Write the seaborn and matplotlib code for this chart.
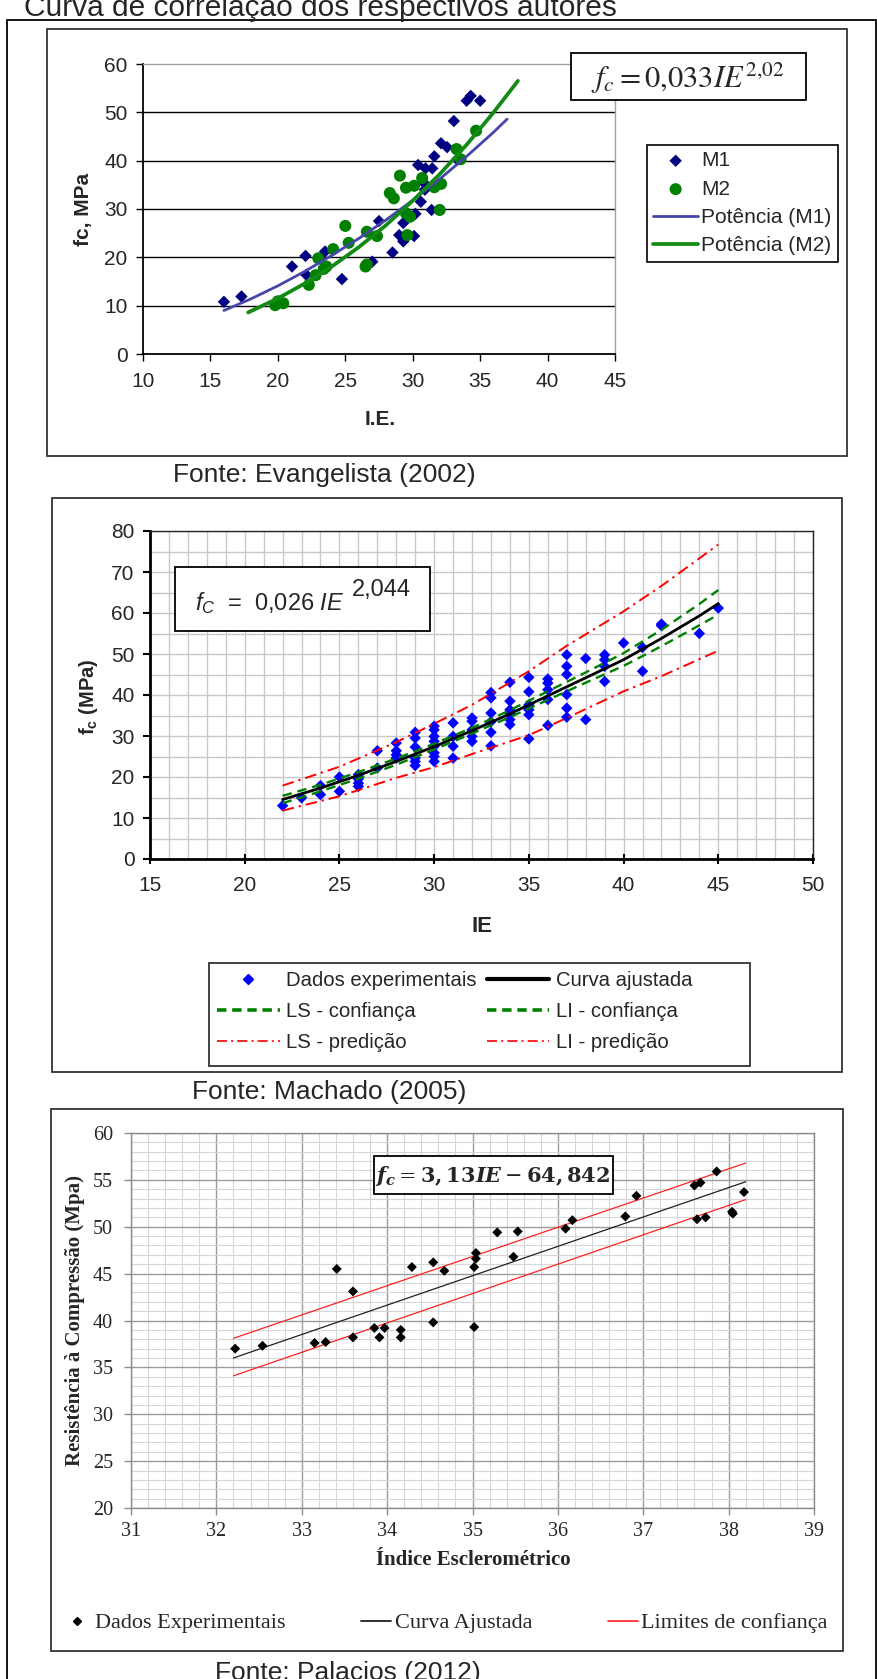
import matplotlib
matplotlib.use("Agg")
import matplotlib.pyplot as plt
from matplotlib.patches import Rectangle
from matplotlib.lines import Line2D
from matplotlib.ticker import MultipleLocator
import seaborn as sns

# ----------------------------------------
# Data - Evangelista (2002)
# ----------------------------------------
m1_ie = [16.0, 17.3, 21.05, 22.05, 22.1, 23.5, 24.75, 27.0, 27.5, 28.5, 29.0, 29.3,
         29.3, 30.1, 30.2, 30.6, 31.4, 30.4, 30.95, 31.45, 31.6, 32.1, 32.55, 33.05,
         34.0, 34.3, 35.0, 33.3, 30.8, 30.9]
m1_fc = [10.8, 11.9, 18.1, 20.3, 16.4, 21.2, 15.5, 19.1, 27.5, 21.0, 24.6, 23.3,
         27.1, 24.4, 29.0, 31.5, 29.8, 39.1, 38.4, 38.4, 40.9, 43.6, 42.8, 48.2,
         52.4, 53.4, 52.4, 40.2, 35.5, 34.0]
m2_ie = [19.8, 20.0, 20.4, 22.3, 22.8, 23.0, 23.6, 24.1, 25.0, 25.25, 26.5, 26.6,
         27.35, 28.3, 28.6, 29.05, 29.5, 30.1, 30.7, 29.5, 29.8, 29.6, 31.6, 32.1,
         32.0, 33.25, 33.55, 34.7, 26.6, 23.4]
m2_fc = [10.1, 10.9, 10.5, 14.3, 16.3, 19.8, 18.1, 21.7, 26.5, 23.0, 18.1, 25.3,
         24.4, 33.3, 32.2, 36.9, 34.4, 34.8, 36.4, 29.1, 28.4, 24.6, 34.5, 35.2,
         29.8, 42.4, 40.3, 46.2, 18.5, 17.6]
pot_m1_ie = [16, 18, 20, 22, 24, 26, 28, 30, 32, 34, 36, 37]
pot_m1_fc = [9.0, 11.4, 14.1, 17.1, 20.4, 23.9, 27.7, 31.8, 36.2, 40.9, 45.9, 48.6]
pot_m2_ie = [17.8, 20, 22, 24, 26, 28, 30, 32, 34, 36, 37.8]
pot_m2_fc = [8.6, 11.5, 14.6, 18.1, 22.1, 26.6, 31.7, 37.2, 43.3, 50.0, 56.5]
ev_xticks = [10, 15, 20, 25, 30, 35, 40, 45]
ev_yticks = [0, 10, 20, 30, 40, 50, 60]

# ----------------------------------------
# Data - Machado (2005)
# ----------------------------------------
mach_ie = [22, 23, 24, 24, 25, 25, 26, 26, 26, 26, 27, 27,
           28, 28, 28, 28, 29, 29, 29, 29, 29, 29,
           30, 30, 30, 30, 30, 30, 30, 30, 31, 31, 31, 31,
           32, 32, 32, 32, 32, 33, 33, 33, 33, 33, 33,
           34, 34, 34, 34, 34, 34, 35, 35, 35, 35, 35, 35,
           36, 36, 36, 36, 36, 37, 37, 37, 37, 37, 37,
           38, 38, 39, 39, 39, 39, 40, 41, 41, 42, 42, 44, 45]
mach_fc = [13.0, 14.9, 17.9, 15.7, 20.0, 16.5, 20.6, 19.5, 18.5, 17.7, 26.4, 22.2,
           28.3, 26.4, 25.4, 24.6, 30.9, 29.5, 27.3, 24.6, 22.8, 23.8,
           32.4, 31.5, 29.9, 28.7, 27.5, 25.9, 25.0, 23.8, 33.2, 29.9, 27.5, 24.6,
           34.4, 33.6, 31.5, 29.9, 28.7, 40.6, 39.3, 35.6, 33.5, 30.9, 27.6,
           43.1, 38.5, 36.4, 35.5, 34.0, 32.8, 44.3, 40.8, 37.6, 36.4, 35.2, 29.3,
           43.9, 42.9, 41.3, 38.9, 32.6, 49.8, 47.0, 45.0, 40.1, 36.8, 34.6,
           48.9, 34.0, 49.8, 48.6, 47.0, 43.3, 52.7, 51.6, 45.8, 57.3, 56.9, 55.0, 61.2]
fit_ie = [22, 24, 26, 28, 30, 32, 34, 36, 38, 40, 42, 44, 45]
fit_fc = [14.5, 17.3, 20.4, 23.8, 27.4, 31.3, 35.4, 39.8, 44.2, 48.6, 53.8, 59.3, 62.3]
conf_ls = [15.4, 18.1, 21.2, 24.5, 28.1, 32.0, 36.3, 40.9, 45.5, 50.2, 55.9, 62.2, 65.6]
conf_li = [13.6, 16.5, 19.6, 23.0, 26.7, 30.6, 34.6, 38.8, 43.0, 47.1, 51.9, 57.0, 59.6]
pred_ie = [22, 25, 28, 30, 32, 35, 37, 40, 42, 45]
pred_ls = [17.9, 22.5, 28.5, 33.0, 37.6, 45.8, 52.0, 60.4, 66.6, 76.7]
pred_li = [11.8, 15.3, 19.8, 22.4, 25.6, 30.2, 34.4, 40.9, 44.6, 50.8]
mach_xticks = [15, 20, 25, 30, 35, 40, 45, 50]
mach_yticks = [0, 10, 20, 30, 40, 50, 60, 70, 80]

# ----------------------------------------
# Data - Palacios (2012)
# ----------------------------------------
pal_ie = [32.22, 32.54, 33.15, 33.28, 33.41, 33.6, 33.6, 33.85, 33.91, 33.97,
          34.16, 34.16, 34.29, 34.54, 34.54, 34.67, 35.02, 35.04, 35.04, 35.02,
          35.29, 35.53, 35.48, 36.09, 36.17, 36.79, 36.92, 37.6, 37.67, 37.86,
          37.63, 37.73, 38.04, 38.05, 38.18]
pal_fc = [37.0, 37.3, 37.6, 37.7, 45.5, 43.1, 38.2, 39.2, 38.2, 39.2,
          39.0, 38.2, 45.7, 46.2, 39.8, 45.3, 45.7, 47.2, 46.6, 39.3,
          49.4, 49.5, 46.8, 49.8, 50.7, 51.1, 53.3, 54.4, 54.7, 55.9,
          50.8, 51.0, 51.6, 51.4, 53.7]
pal_line_ie = [32.2, 38.2]
pal_fit = [36.0, 54.8]
pal_sup = [38.1, 56.8]
pal_inf = [34.1, 52.9]
pal_xticks = [31, 32, 33, 34, 35, 36, 37, 38, 39]
pal_yticks = [20, 25, 30, 35, 40, 45, 50, 55, 60]

# ----------------------------------------
# Figure setup
# ----------------------------------------
W, H = 877, 1679

def fx(x):
    return x / W

def fy(y):
    return 1 - y / H

def box(l, t, r, b):
    return [l / W, 1 - b / H, (r - l) / W, (b - t) / H]

def frame(l, t, r, b, lw=1.3, color="#333333", fill="none", z=1):
    fig.add_artist(Rectangle((l / W, 1 - b / H), (r - l) / W, (b - t) / H,
                             transform=fig.transFigure, facecolor=fill,
                             edgecolor=color, lw=lw, zorder=z))

sns.set_style("ticks")
plt.rcParams["font.family"] = ["Liberation Sans", "DejaVu Sans"]
plt.rcParams["mathtext.fontset"] = "custom"
plt.rcParams["mathtext.rm"] = "Liberation Sans"
plt.rcParams["mathtext.it"] = "Liberation Sans:italic"
plt.rcParams["mathtext.bf"] = "Liberation Sans:bold"

fig = plt.figure(figsize=(W / 100, H / 100), dpi=100)

SANS = "Liberation Sans"
SERIF = "Liberation Serif"

# ----------------------------------------
# 1. Evangelista (2002)
# ----------------------------------------
ax1 = fig.add_axes(box(143, 64, 615, 354))
ax1.set_axisbelow(True)
sns.scatterplot(x=m1_ie, y=m1_fc, marker="D", s=40, color="#000080",
                edgecolor="none", label="M1", ax=ax1, zorder=3)
sns.scatterplot(x=m2_ie, y=m2_fc, marker="o", s=75, color="#008000",
                edgecolor="none", label="M2", ax=ax1, zorder=3)
sns.lineplot(x=pot_m1_ie, y=pot_m1_fc, color="#4646aa", linewidth=2.0,
             estimator=None, sort=False, label="Potência (M1)", ax=ax1, zorder=4)
sns.lineplot(x=pot_m2_ie, y=pot_m2_fc, color="#138a13", linewidth=2.7,
             estimator=None, sort=False, label="Potência (M2)", ax=ax1, zorder=4)
ax1.set_xlim(10, 45)
ax1.set_ylim(0, 60)
ax1.set_xticks(ev_xticks)
ax1.set_xticklabels([str(v) for v in ev_xticks], fontsize=15, family=SANS)
ax1.set_yticks(ev_yticks)
ax1.set_yticklabels([str(v) for v in ev_yticks], fontsize=15, family=SANS)
ax1.yaxis.grid(True, color="black", lw=1)
for gl, v in zip(ax1.get_ygridlines(), ev_yticks):
    if v in (0, 60):
        gl.set_visible(False)
for s in ["left", "bottom"]:
    ax1.spines[s].set_color("black")
    ax1.spines[s].set_linewidth(1.3)
for s in ["top", "right"]:
    ax1.spines[s].set_visible(True)
    ax1.spines[s].set_color("#a0a0a0")
    ax1.spines[s].set_linewidth(1)
ax1.tick_params(axis="both", direction="out", length=5, width=1, color="black")
ax1.tick_params(axis="x", pad=8)
ax1.tick_params(axis="y", pad=6)
ax1.set_xlabel("")
ax1.set_ylabel("")
h1, l1 = ax1.get_legend_handles_labels()
leg1 = ax1.legend(h1, l1, loc="upper left", bbox_to_anchor=(fx(647), fy(145)),
                  bbox_transform=fig.transFigure, fontsize=15, frameon=True,
                  fancybox=False, edgecolor="black", framealpha=1, borderpad=0.3,
                  labelspacing=0.45, handlelength=2.15, handletextpad=0.15,
                  borderaxespad=0)
leg1.get_frame().set_linewidth(1.2)

fig.text(fx(83), fy(209), "fc, MPa", rotation=90, ha="center", va="center",
         fontsize=15, fontweight="bold", family=SANS)
fig.text(fx(380), fy(420), "I.E.", ha="center", va="center",
         fontsize=15, fontweight="bold", family=SANS)
frame(571, 53, 806, 100, lw=1.3, color="black", fill="white", z=4)
fig.text(fx(688), fy(78), r"$f_c = 0{,}033IE^{2{,}02}$", math_fontfamily="stix",
         ha="center", va="center", fontsize=22, zorder=5)

# ----------------------------------------
# 2. Machado (2005)
# ----------------------------------------
ax2 = fig.add_axes(box(150, 531, 813, 859))
ax2.set_axisbelow(True)
sns.scatterplot(x=mach_ie, y=mach_fc, marker="D", s=34, color="#0000ff",
                edgecolor="none", ax=ax2, zorder=2)
sns.lineplot(x=pred_ie, y=pred_ls, color="#ff0000", linewidth=1.4,
             linestyle=(0, (6, 2.5, 1.2, 2.5)), estimator=None, sort=False, ax=ax2, zorder=3)
sns.lineplot(x=pred_ie, y=pred_li, color="#ff0000", linewidth=1.4,
             linestyle=(0, (6, 2.5, 1.2, 2.5)), estimator=None, sort=False, ax=ax2, zorder=3)
sns.lineplot(x=fit_ie, y=conf_ls, color="#008000", linewidth=1.7,
             linestyle=(0, (4, 2.5)), estimator=None, sort=False, ax=ax2, zorder=3)
sns.lineplot(x=fit_ie, y=conf_li, color="#008000", linewidth=1.7,
             linestyle=(0, (4, 2.5)), estimator=None, sort=False, ax=ax2, zorder=3)
sns.lineplot(x=fit_ie, y=fit_fc, color="black", linewidth=2,
             estimator=None, sort=False, ax=ax2, zorder=4)
ax2.set_xlim(15, 50)
ax2.set_ylim(0, 80)
ax2.set_xticks(mach_xticks)
ax2.set_xticklabels([str(v) for v in mach_xticks], fontsize=15, family=SANS)
ax2.set_yticks(mach_yticks)
ax2.set_yticklabels([str(v) for v in mach_yticks], fontsize=15, family=SANS)
ax2.xaxis.set_minor_locator(MultipleLocator(1))
ax2.yaxis.set_minor_locator(MultipleLocator(5))
ax2.grid(which="both", color="#c8c8c8", lw=1)
ax2.tick_params(which="minor", length=0)
ax2.tick_params(axis="y", which="major", direction="out", length=5, width=1.5,
                color="black", pad=6)
ax2.tick_params(axis="x", which="major", direction="inout", length=7, width=1.5,
                color="black", pad=9)
for s in ["left", "bottom"]:
    ax2.spines[s].set_color("black")
    ax2.spines[s].set_linewidth(2)
for s in ["top", "right"]:
    ax2.spines[s].set_visible(True)
    ax2.spines[s].set_color("#222222")
    ax2.spines[s].set_linewidth(1)
ax2.set_xlabel("")
ax2.set_ylabel("")
if ax2.get_legend() is not None:
    ax2.get_legend().remove()

fig.text(fx(88), fy(697), r"f$_{\mathbf{c}}$ (MPa)", rotation=90, ha="center",
         va="center", fontsize=14.5, fontweight="bold", family=SANS)
fig.text(fx(482), fy(926), "IE", ha="center", va="center",
         fontsize=16, fontweight="bold", family=SANS)
frame(175, 567, 430, 631, lw=1.3, color="black", fill="white", z=4)
fig.text(fx(195), fy(603), r"$f_C$  =  0,026 $IE$", ha="left", va="center",
         fontsize=17, family=SANS, zorder=5)
fig.text(fx(352), fy(590), "2,044", ha="left", va="center",
         fontsize=17, family=SANS, zorder=5)

mach_handles = [
    Line2D([], [], ls="none", marker="D", ms=5.5, color="#0000ff"),
    Line2D([], [], color="#008000", lw=2.6, ls=(0, (2.6, 1.6))),
    Line2D([], [], color="#ff0000", lw=1.2, ls=(0, (6, 2.5, 1.2, 2.5))),
    Line2D([], [], color="black", lw=3),
    Line2D([], [], color="#008000", lw=2.6, ls=(0, (2.6, 1.6))),
    Line2D([], [], color="#ff0000", lw=1.2, ls=(0, (6, 2.5, 1.2, 2.5))),
]
mach_labels = ["Dados experimentais", "LS - confiança", "LS - predição",
               "Curva ajustada", "LI - confiança", "LI - predição"]
leg2 = fig.legend(mach_handles, mach_labels, ncol=2, loc="upper left",
                  bbox_to_anchor=(fx(217), fy(971)), bbox_transform=fig.transFigure,
                  frameon=False, fontsize=14.6, borderpad=0, borderaxespad=0,
                  labelspacing=0.6, handlelength=3.1, handletextpad=0.3,
                  columnspacing=0.5)
frame(209, 963, 750, 1066, lw=1.3, color="#333333")

# ----------------------------------------
# 3. Palacios (2012)
# ----------------------------------------
ax3 = fig.add_axes(box(131, 1133, 814, 1508))
ax3.set_axisbelow(True)
sns.lineplot(x=pal_line_ie, y=pal_sup, color="#ff2020", linewidth=0.9,
             estimator=None, sort=False, ax=ax3, zorder=3)
sns.lineplot(x=pal_line_ie, y=pal_inf, color="#ff2020", linewidth=0.9,
             estimator=None, sort=False, ax=ax3, zorder=3)
sns.lineplot(x=pal_line_ie, y=pal_fit, color="#202020", linewidth=0.9,
             estimator=None, sort=False, ax=ax3, zorder=3)
sns.scatterplot(x=pal_ie, y=pal_fc, marker="D", s=26, color="black",
                edgecolor="none", ax=ax3, zorder=4)
ax3.set_xlim(31, 39)
ax3.set_ylim(20, 60)
ax3.set_xticks(pal_xticks)
ax3.set_xticklabels([str(v) for v in pal_xticks], fontsize=14.5, family=SERIF)
ax3.set_yticks(pal_yticks)
ax3.set_yticklabels([str(v) for v in pal_yticks], fontsize=14.5, family=SERIF)
ax3.xaxis.set_minor_locator(MultipleLocator(0.2))
ax3.yaxis.set_minor_locator(MultipleLocator(1))
ax3.grid(which="minor", color="#d6d6d6", lw=0.8)
ax3.grid(which="major", color="#9c9c9c", lw=1)
ax3.tick_params(which="minor", length=0)
ax3.tick_params(axis="both", which="major", direction="out", length=5, width=1,
                color="#8c8c8c")
ax3.tick_params(axis="x", pad=5)
ax3.tick_params(axis="y", pad=8)
for s in ["left", "bottom", "top", "right"]:
    ax3.spines[s].set_visible(True)
    ax3.spines[s].set_color("#8c8c8c")
    ax3.spines[s].set_linewidth(1)
ax3.set_xlabel("")
ax3.set_ylabel("")
if ax3.get_legend() is not None:
    ax3.get_legend().remove()

fig.text(fx(75), fy(1321), "Resistência à Compressão (Mpa)", rotation=90,
         ha="center", va="center", fontsize=15, fontweight="bold", family=SERIF)
fig.text(fx(473), fy(1560), "Índice Esclerométrico", ha="center", va="center",
         fontsize=15, fontweight="bold", family=SERIF)
frame(374, 1156, 613, 1194, lw=1.3, color="black", fill="white", z=4)
fig.text(fx(493), fy(1176),
         r"$\mathbfit{f_c} = \mathbf{3,13}\mathbfit{IE} - \mathbf{64,842}$",
         math_fontfamily="dejavuserif", ha="center", va="center", fontsize=15, zorder=5)

pal_handles = [
    Line2D([], [], ls="none", marker="D", ms=4.5, color="black"),
    Line2D([], [], color="#202020", lw=1.3),
    Line2D([], [], color="#ff3030", lw=1.3),
]
pal_labels = ["Dados Experimentais", "Curva Ajustada", "Limites de confiança"]
fig.legend(pal_handles, pal_labels, ncol=3, loc="center left",
           bbox_to_anchor=(fx(62), fy(1623)), bbox_transform=fig.transFigure,
           frameon=False, prop={"family": SERIF, "size": 16}, borderpad=0,
           borderaxespad=0, handlelength=1.35, handletextpad=0.15,
           columnspacing=3.4)

# ----------------------------------------
# Frames and captions
# ----------------------------------------
frame(7, 20, 876, 1720, lw=1.3, color="black")
frame(47, 29, 847, 456)
frame(52, 498, 842, 1072)
frame(51, 1109, 843, 1651)

fig.text(fx(24), fy(16), "Curva de correlação dos respectivos autores",
         ha="left", va="baseline", fontsize=21.5, family=SANS)
fig.text(fx(173), fy(475), "Fonte: Evangelista (2002)", ha="left", va="center",
         fontsize=19, family=SANS)
fig.text(fx(192), fy(1092), "Fonte: Machado (2005)", ha="left", va="center",
         fontsize=19, family=SANS)
fig.text(fx(215), fy(1673), "Fonte: Palacios (2012)", ha="left", va="center",
         fontsize=19, family=SANS)

fig.savefig("out.png", dpi=100)
